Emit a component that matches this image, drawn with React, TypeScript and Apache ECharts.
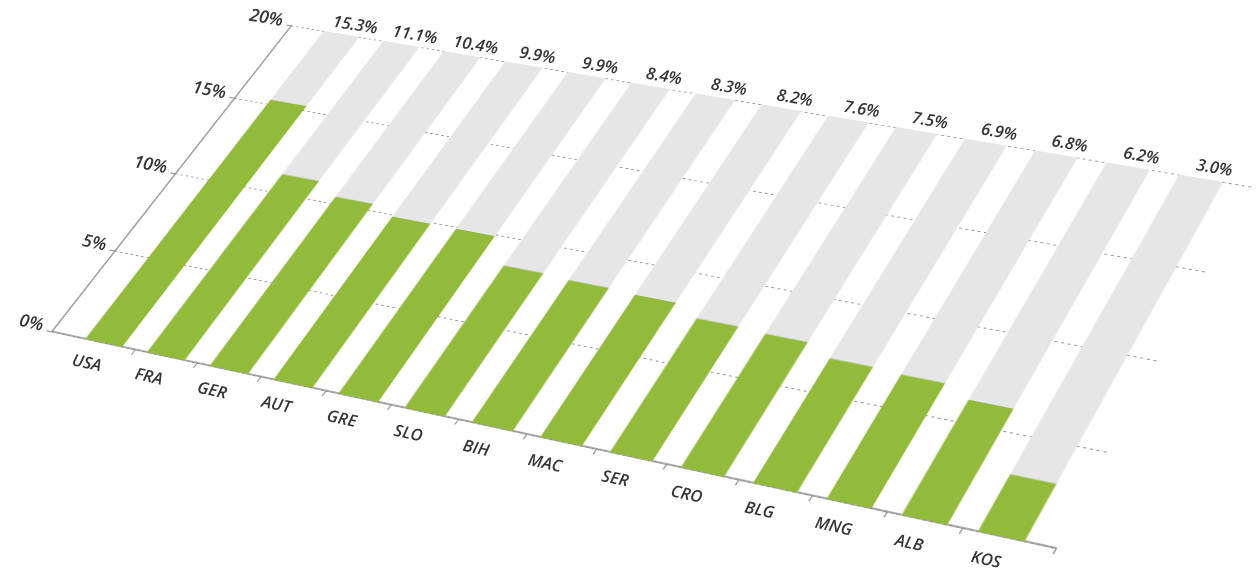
import React, { useEffect, useRef } from 'react';
import * as echarts from 'echarts';

// ---------------- data ----------------
const countries = ['USA', 'FRA', 'GER', 'AUT', 'GRE', 'SLO', 'BIH', 'MAC', 'SER', 'CRO', 'BLG', 'MNG', 'ALB', 'KOS'];
const shares = [15.3, 11.1, 10.4, 9.9, 9.9, 8.4, 8.3, 8.2, 7.6, 7.5, 6.9, 6.8, 6.2, 3.0];
const yTicks = [0, 5, 10, 15, 20];
const Y_MIN = 0;
const Y_MAX = 20;
const Y_STEP = 5;

// ---------------- layout ----------------
const VIEW_W = 1258;
const VIEW_H = 572;
const FLAT_W = 1120;
const FLAT_H = 500;
const GL = 60;
const GT = 50;
const GW = 1000;
const GH = 390;
const PAD_L = 0.35; // extra axis length before first band (band units)
const PAD_R = 0.2; // extra axis length after last band
const N = countries.length;
const TOTAL = PAD_L + N + PAD_R;
// where the plot rectangle lands on screen: TL, TR, BR, BL
const QUAD: number[][] = [
  [291.5, 25.5],
  [1253, 187],
  [1056, 548],
  [52, 331.5],
];

const GREEN = '#93bb3b';
const TRACK = '#e6e6e6';
const AXIS = '#8e8e8e';
const TEXT = '#353535';
const FONT = 'Open Sans';

function squareToQuad(q: number[][]) {
  const [[x0, y0], [x1, y1], [x2, y2], [x3, y3]] = q;
  const dx1 = x1 - x2, dx2 = x3 - x2, dx3 = x0 - x1 + x2 - x3;
  const dy1 = y1 - y2, dy2 = y3 - y2, dy3 = y0 - y1 + y2 - y3;
  const den = dx1 * dy2 - dx2 * dy1;
  const g = (dx3 * dy2 - dx2 * dy3) / den;
  const h = (dx1 * dy3 - dx3 * dy1) / den;
  return [
    [x1 - x0 + g * x1, x3 - x0 + h * x3, x0],
    [y1 - y0 + g * y1, y3 - y0 + h * y3, y0],
    [g, h, 1],
  ];
}

function mul(A: number[][], B: number[][]) {
  const R = [[0, 0, 0], [0, 0, 0], [0, 0, 0]];
  for (let i = 0; i < 3; i++)
    for (let j = 0; j < 3; j++)
      for (let k = 0; k < 3; k++) R[i][j] += A[i][k] * B[k][j];
  return R;
}

const H = squareToQuad(QUAD);
const S = [
  [1 / GW, 0, -GL / GW],
  [0, 1 / GH, -GT / GH],
  [0, 0, 1],
];
const M = mul(H, S);

function project(x: number, y: number): [number, number] {
  const w = M[2][0] * x + M[2][1] * y + M[2][2];
  return [(M[0][0] * x + M[0][1] * y + M[0][2]) / w, (M[1][0] * x + M[1][1] * y + M[1][2]) / w];
}

const cssMatrix = `matrix3d(${M[0][0]},${M[1][0]},0,${M[2][0]},${M[0][1]},${M[1][1]},0,${M[2][1]},0,0,1,0,${M[0][2]},${M[1][2]},0,${M[2][2]})`;

function makeText(text: string, fx: number, fy: number, align: string, size: number) {
  const [sx, sy] = project(fx, fy);
  const [ex, ey] = project(fx + 20, fy);
  const rot = -Math.atan2(ey - sy, ex - sx);
  return {
    type: 'text',
    x: sx,
    y: sy,
    rotation: rot,
    style: {
      text,
      fill: TEXT,
      fontSize: size,
      fontFamily: FONT,
      fontStyle: 'italic',
      fontWeight: 600,
      textAlign: align,
      textVerticalAlign: 'middle',
      align,
      verticalAlign: 'middle',
    },
  };
}

export default function App() {
  const flatRef = useRef<HTMLDivElement>(null);
  const textRef = useRef<HTMLDivElement>(null);

  useEffect(() => {
    if (!flatRef.current || !textRef.current) return;
    const chart = echarts.init(flatRef.current, null, { renderer: 'svg' });
    const tickPositions = countries.slice(1).map((_, i) => PAD_L + i + 1).concat([TOTAL]);
    chart.setOption({
      animation: false,
      grid: [
        { left: GL, top: GT, width: GW, height: GH },
        { left: GL + (GW * PAD_L) / TOTAL, top: GT, width: (GW * N) / TOTAL, height: GH },
      ],
      xAxis: [
        {
          gridIndex: 0,
          type: 'value',
          min: 0,
          max: TOTAL,
          axisLine: { show: true, onZero: false, lineStyle: { color: AXIS, width: 1.6 } },
          axisTick: { show: true, customValues: tickPositions, length: 6, lineStyle: { color: AXIS, width: 1.2 } },
          axisLabel: { show: false },
          splitLine: { show: false },
        },
        {
          gridIndex: 1,
          type: 'category',
          data: countries,
          show: false,
        },
      ],
      yAxis: [
        {
          gridIndex: 0,
          type: 'value',
          min: Y_MIN,
          max: Y_MAX,
          interval: Y_STEP,
          axisLine: { show: true, lineStyle: { color: AXIS, width: 1.6 } },
          axisTick: { show: true, length: 6, lineStyle: { color: AXIS, width: 1.2 } },
          axisLabel: { show: false },
          splitLine: { show: true, lineStyle: { color: '#8a8a8a', width: 1.2, type: [2.5, 3.5] } },
        },
        { gridIndex: 1, type: 'value', min: Y_MIN, max: Y_MAX, show: false, splitLine: { show: false } },
      ],
      series: [
        {
          type: 'bar',
          xAxisIndex: 1,
          yAxisIndex: 1,
          data: shares,
          barWidth: '60%',
          showBackground: true,
          backgroundStyle: { color: TRACK },
          itemStyle: { color: GREEN },
          z: 3,
        },
      ],
    });

    const overlay = echarts.init(textRef.current, null, { renderer: 'svg' });
    const elements: any[] = [];
    yTicks.forEach((t) => {
      const [px, py] = chart.convertToPixel({ gridIndex: 0 } as any, [0, t]) as number[];
      elements.push(makeText(`${t}%`, px - 14, py - 6, 'right', 17.5));
    });
    countries.forEach((c, i) => {
      const [cx, top] = chart.convertToPixel({ gridIndex: 1 } as any, [i, Y_MAX]) as number[];
      const [, bottom] = chart.convertToPixel({ gridIndex: 1 } as any, [i, Y_MIN]) as number[];
      elements.push(makeText(`${shares[i].toFixed(1)}%`, cx + 6, top - 15, 'center', 16.5));
      elements.push(makeText(c, cx - 2, bottom + 23, 'center', 16.5));
    });
    overlay.setOption({ animation: false, graphic: { elements } });

    return () => {
      chart.dispose();
      overlay.dispose();
    };
  }, []);

  return (
    <div style={{ position: 'fixed', left: 0, top: 0, width: VIEW_W, height: VIEW_H, overflow: 'hidden', background: '#fff' }}>
      <div
        ref={flatRef}
        style={{
          position: 'absolute',
          left: 0,
          top: 0,
          width: FLAT_W,
          height: FLAT_H,
          transformOrigin: '0 0',
          transform: cssMatrix,
        }}
      />
      <div ref={textRef} style={{ position: 'absolute', left: 0, top: 0, width: VIEW_W, height: VIEW_H, pointerEvents: 'none' }} />
    </div>
  );
}
